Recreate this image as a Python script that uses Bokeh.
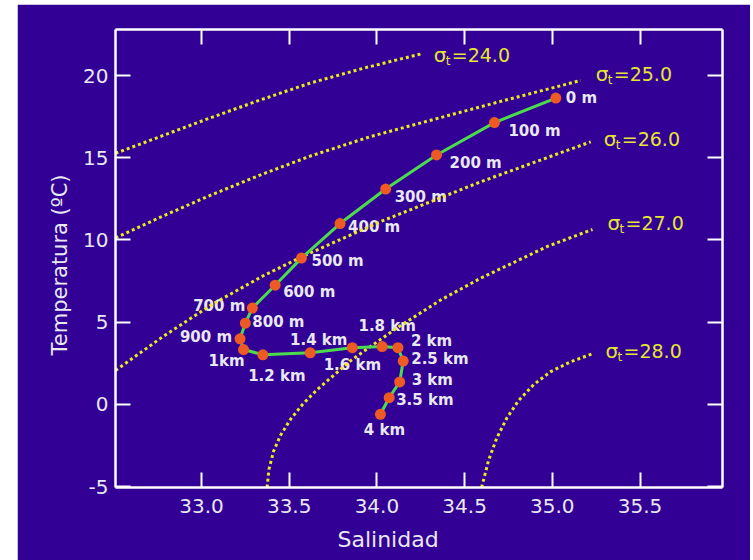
from bokeh.plotting import figure
from bokeh.models import Range1d, LinearAxis, FixedTicker, Title, Spacer, ColumnDataSource
from bokeh.layouts import row, column
from bokeh.core.properties import value
from bokeh.embed import file_html
from bokeh.resources import INLINE

# ---------------- data ----------------
depth_labels = ["0 m", "100 m", "200 m", "300 m", "400 m", "500 m", "600 m", "700 m",
                "800 m", "900 m", "1km", "1.2 km", "1.4 km", "1.6 km", "1.8 km",
                "2 km", "2.5 km", "3 km", "3.5 km", "4 km"]
salinity = [35.02, 34.67, 34.34, 34.05, 33.79, 33.57, 33.42, 33.29, 33.25, 33.22,
            33.24, 33.35, 33.62, 33.86, 34.03, 34.12, 34.15, 34.13, 34.07, 34.02]
temperature = [18.63, 17.14, 15.17, 13.10, 11.00, 8.90, 7.25, 5.86, 4.94, 3.99,
               3.34, 3.02, 3.14, 3.45, 3.52, 3.45, 2.64, 1.37, 0.41, -0.60]

sigma_values = ["24.0", "25.0", "26.0", "27.0", "28.0"]
sig24_s = [32.51, 32.795, 33.051, 33.337, 33.622, 33.936, 34.25]
sig24_t = [15.27, 16.41, 17.43, 18.52, 19.55, 20.48, 21.31]
sig25_s = [32.51, 32.766, 33.051, 33.337, 33.622, 33.964, 34.306, 34.706, 35.162]
sig25_t = [10.13, 11.39, 12.72, 13.96, 15.11, 16.29, 17.28, 18.43, 19.70]
sig26_s = [32.51, 32.778, 33.063, 33.348, 33.576, 34.021, 34.592, 35.219]
sig26_t = [2.06, 4.11, 6.10, 7.80, 9.00, 11.12, 13.54, 15.97]
sig27_s = [33.374, 33.385, 33.411, 33.451, 33.508, 33.576, 33.660, 33.850, 34.097,
           34.363, 34.592, 34.972, 35.229]
sig27_t = [-5.05, -3.93, -2.84, -1.87, -0.90, 0.0, 0.91, 2.66, 4.53, 6.35, 7.68, 9.61, 10.64]
sig28_s = [34.597, 34.637, 34.683, 34.740, 34.808, 34.894, 34.991, 35.105, 35.229]
sig28_t = [-5.05, -3.38, -2.05, -0.84, 0.24, 1.21, 2.00, 2.60, 3.08]

x_ticks = [33.0, 33.5, 34.0, 34.5, 35.0, 35.5]
x_tick_labels = ["33.0", "33.5", "34.0", "34.5", "35.0", "35.5"]
y_ticks = [-5, 0, 5, 10, 15, 20]
y_tick_labels = ["-5", "0", "5", "10", "15", "20"]

# ---------------- style ----------------
BG = "#320094"
WHITE = "#FFFFFF"
TXT = "#E8E8F0"
YEL = "#EAEA1E"
YEL_TXT = "#E6E632"
GREEN = "#4CDB4C"
DOT = "#EE5A24"
FONT = "DejaVu Sans"

# label placement (screen px) relative to each point
lab_dx = [10, 14, 13, 9, 8, 10, 8, -7, 7, -8, 1, 14, 8.5, 0, 5, 13, 8, 12, 7, 4]
lab_dy = [0, 8, 8, 8, 3, 3, 7, -2, -1, -2, 11, 21, -13, 17, -21, -7, -2, -2, 2, 16]
lab_align = ["left"] * 7 + ["right", "left", "right", "right", "center", "center",
                            "center", "center", "left", "left", "left", "left", "center"]
sig_dx = [13, 15, 13, 15, 13]
sig_dy = [1, -6, -3, -6, -2.5]

p = figure(width=733, height=556, x_range=Range1d(32.51, 35.97), y_range=Range1d(-5.05, 22.8),
           output_backend="svg", toolbar_location=None,
           x_axis_location=None, y_axis_location=None,
           min_border_left=98, min_border_right=28, min_border_top=25, min_border_bottom=70)
p.background_fill_color = BG
p.border_fill_color = BG
p.outline_line_color = None
p.xgrid.visible = False
p.ygrid.visible = False

bottom_ax = LinearAxis(ticker=FixedTicker(ticks=x_ticks),
                       major_label_overrides={t: l for t, l in zip(x_ticks, x_tick_labels)})
top_ax = LinearAxis(ticker=FixedTicker(ticks=x_ticks))
left_ax = LinearAxis(ticker=FixedTicker(ticks=y_ticks),
                     major_label_overrides={t: l for t, l in zip(y_ticks, y_tick_labels)})
right_ax = LinearAxis(ticker=FixedTicker(ticks=y_ticks))

for ax in [bottom_ax, top_ax, left_ax, right_ax]:
    ax.axis_line_color = WHITE
    ax.axis_line_width = 2.5
    ax.major_tick_line_color = WHITE
    ax.major_tick_line_width = 2
    ax.major_tick_in = 15
    ax.major_tick_out = 0
    ax.minor_tick_line_color = None
    ax.major_label_text_color = TXT
    ax.major_label_text_font = FONT
    ax.major_label_text_font_size = "20px"
for ax in [top_ax, right_ax]:
    ax.major_label_text_font_size = "0px"
    ax.major_label_text_alpha = 0
    ax.major_label_standoff = 0
bottom_ax.major_label_standoff = 11
left_ax.major_label_standoff = 7

p.add_layout(bottom_ax, "below")
p.add_layout(left_ax, "left")
p.add_layout(top_ax, "above")
p.add_layout(right_ax, "right")

xt = Title(text="Salinidad", align="left", offset=222, text_font=FONT, text_font_size="22px",
           text_font_style="normal", text_color=TXT, standoff=18)
p.add_layout(xt, "below")
yt = Title(text="Temperatura (ºC)", align="left", offset=132, text_font=FONT,
           text_font_size="21px", text_font_style="normal", text_color=TXT, standoff=18)
p.add_layout(yt, "left")

# depth labels (drawn first, dotted lines cross over them)
for al in ["left", "right", "center"]:
    idx = [i for i, a in enumerate(lab_align) if a == al]
    src = ColumnDataSource(dict(x=[salinity[i] for i in idx], y=[temperature[i] for i in idx],
                                text=[depth_labels[i] for i in idx],
                                dx=[lab_dx[i] for i in idx], dy=[lab_dy[i] for i in idx]))
    p.text(x="x", y="y", text="text", x_offset="dx", y_offset="dy", source=src,
           text_align=al, text_baseline="middle", text_font=value(FONT),
           text_font_size=value("15px"), text_font_style="bold", text_color=TXT)

# isopycnals
curves = [(sig24_s, sig24_t), (sig25_s, sig25_t), (sig26_s, sig26_t),
          (sig27_s, sig27_t), (sig28_s, sig28_t)]
for (s, t) in curves:
    p.line(s, t, line_color=YEL, line_width=3, line_dash="3 3")

# sigma labels at the end of each curve
ends_x = [c[0][-1] for c in curves]
ends_y = [c[1][-1] for c in curves]
p.text(x=ends_x, y=ends_y, text=["σ"] * 5, x_offset=sig_dx, y_offset=sig_dy,
       text_align="left", text_baseline="middle", text_font=value(FONT),
       text_font_size=value("20px"), text_color=YEL_TXT)
p.text(x=ends_x, y=ends_y, text=["t"] * 5, x_offset=[d + 12 for d in sig_dx],
       y_offset=[d + 6 for d in sig_dy],
       text_align="left", text_baseline="middle", text_font=value(FONT),
       text_font_size=value("12px"), text_color=YEL_TXT)
p.text(x=ends_x, y=ends_y, text=["=" + v for v in sigma_values],
       x_offset=[d + 18 for d in sig_dx], y_offset=sig_dy,
       text_align="left", text_baseline="middle", text_font=value(FONT),
       text_font_size=value("19px"), text_color=YEL_TXT)

# T-S profile
p.line(salinity, temperature, line_color=GREEN, line_width=3)
p.scatter(salinity, temperature, size=11, fill_color=DOT, line_color=None)

layout = column(Spacer(width=750, height=4), row(Spacer(width=17, height=556), p))
open("out.html", "w").write(file_html(layout, INLINE))
